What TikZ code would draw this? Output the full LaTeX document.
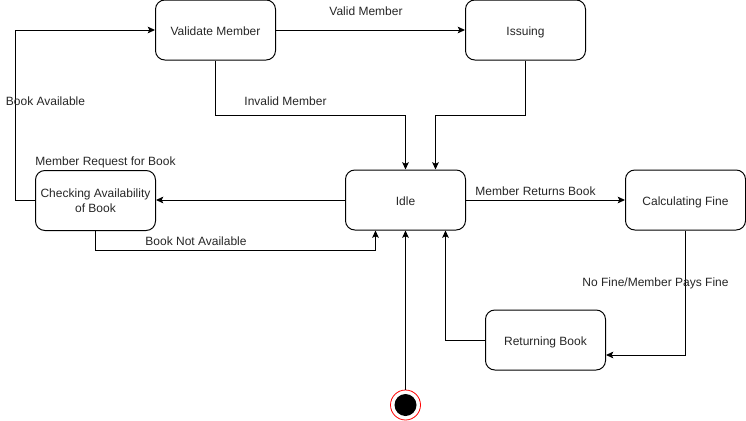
\documentclass[tikz,border=0pt]{standalone}
\usepackage{fontspec}
\setmainfont{Liberation Sans}
\usetikzlibrary{arrows.meta}
\begin{document}
\begin{tikzpicture}[x=0.75pt,y=-0.75pt,
  state/.style={draw=black,line width=0.75pt,rounded corners=7pt,minimum width=90pt,minimum height=45pt,inner sep=0pt,align=center,font=\fontsize{9}{11}\selectfont,text=black!85},
  onel/.style={text height=8pt,text depth=0pt},
  lbl/.style={inner sep=0pt,font=\fontsize{9}{11}\selectfont,text=black!85,text height=8pt,text depth=0pt},
  conn/.style={line width=0.75pt,-{Stealth[length=5.5pt,width=5pt,inset=1.2pt]}},
]
\useasboundingbox (0,0) rectangle (746,421);
\node[state,onel] (val) at (215.5,30) {Validate Member};
\node[state,onel] (iss) at (525.5,30) {Issuing};
\node[state] (chk) at (95.5,200.5) {Checking Availability\\of Book};
\node[state,onel] (idle) at (405.5,200) {Idle};
\node[state,onel] (calc) at (685.5,200) {Calculating Fine};
\node[state,onel] (ret) at (545.5,340) {Returning Book};
\node[circle,draw=red,line width=0.6pt,fill=white,minimum size=22.5pt,inner sep=0pt] (init) at (405.5,405) {};
\node[circle,fill=black,minimum size=16.5pt,inner sep=0pt] (initc) at (init.center) {};

\coordinate (a1) at (215.5,115);
\coordinate (a2) at (405.5,115);
\coordinate (b1) at (525.5,115);
\coordinate (b2) at (435.5,115);
\coordinate (c1) at (15,200);
\coordinate (c2) at (15,30);
\coordinate (d1) at (95.5,250);
\coordinate (d2) at (375.5,250);
\coordinate (e1) at (685.5,355);
\coordinate (f1) at (445.5,340);

\draw[conn] (val.east) -- (iss.west);
\draw[conn] (val.south) -- (a1) -- (a2) -- (a2 |- idle.north);
\draw[conn] (iss.south) -- (b1) -- (b2) -- (b2 |- idle.north);
\draw[conn] (idle.west) -- (chk.east |- idle.west);
\draw[conn] (chk.west |- idle.west) -- (c1) -- (c2) -- (val.west);
\draw[conn] (chk.south) -- (d1) -- (d2) -- (d2 |- idle.south);
\draw[conn] (idle.east) -- (calc.west);
\draw[conn] (calc.south) -- (e1) -- (e1 -| ret.east);
\draw[conn] (ret.west) -- (f1) -- (f1 |- idle.south);
\draw[conn] (init.north) -- (idle.south);

\node[lbl] (l1) at (366,10.5) {Valid Member};
\node[lbl] (l2) at (285.5,100.5) {Invalid Member};
\node[lbl] (l3) at (45.5,100.5) {Book Available};
\node[lbl] (l4) at (105.5,160.5) {Member Request for Book};
\node[lbl] (l5) at (196,240.5) {Book Not Available};
\node[lbl] (l6) at (535.5,190.5) {Member Returns Book};
\node[lbl] (l7) at (655.5,281) {No Fine/Member Pays Fine};
\end{tikzpicture}
\end{document}
